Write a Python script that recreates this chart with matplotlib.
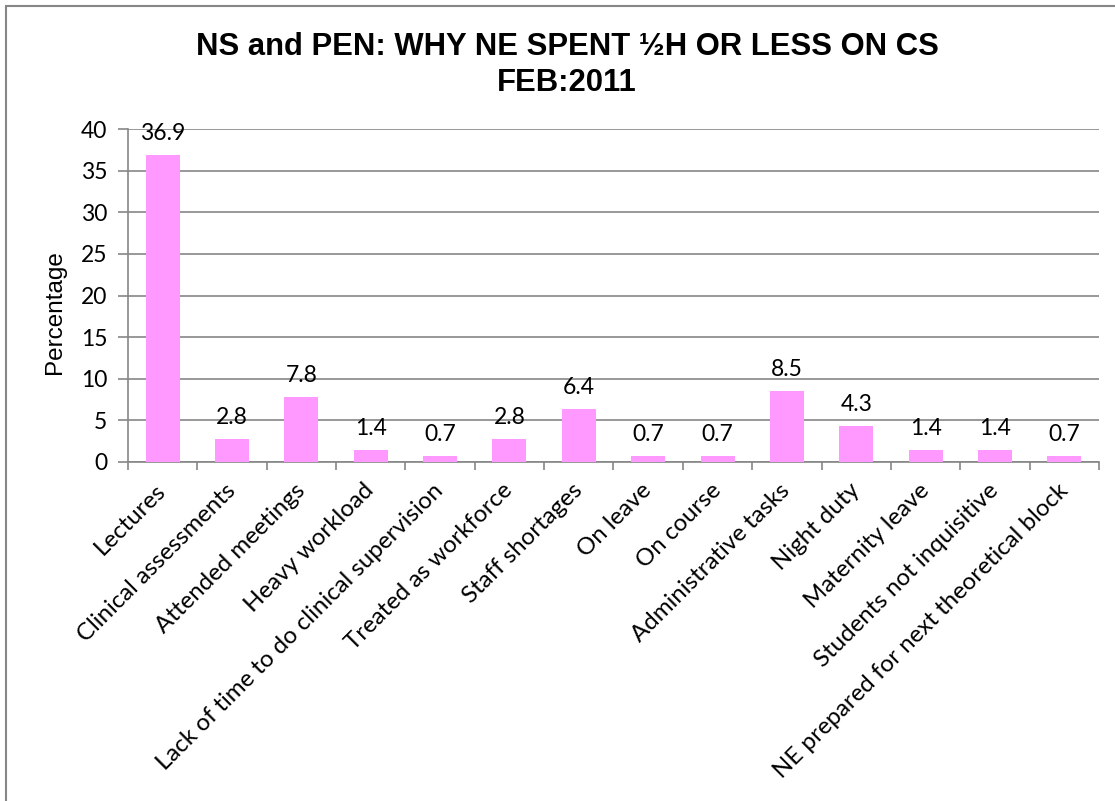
import numpy as np
import matplotlib.pyplot as plt
from matplotlib.patches import Rectangle

categories = ['Lectures', 'Clinical assessments', 'Attended meetings', 'Heavy workload',
              'Lack of time to do clinical supervision', 'Treated as workforce',
              'Staff shortages', 'On leave', 'On course', 'Administrative tasks',
              'Night duty', 'Maternity leave', 'Students not inquisitive',
              'NE prepared for next theoretical block']
values = [36.9, 2.8, 7.8, 1.4, 0.7, 2.8, 6.4, 0.7, 0.7, 8.5, 4.3, 1.4, 1.4, 0.7]
yticks = [0, 5, 10, 15, 20, 25, 30, 35, 40]

W, H = 1115, 801
fig = plt.figure(figsize=(W / 100, H / 100), dpi=100)

# chart frame (only top and left edges fall inside the image)
fig.patches.append(Rectangle((6 / W, -0.1), 1.2, 1 - 6 / H + 0.1, transform=fig.transFigure,
                             fill=False, edgecolor='#868686', linewidth=1.5))

left, right, top, bottom = 128, 1099, 129, 462
ax = fig.add_axes([left / W, 1 - bottom / H, (right - left) / W, (bottom - top) / H])

grey = '#868686'
x = np.arange(len(categories))
ax.bar(x, values, width=0.49, color='#FF99FF', zorder=3)
ax.set_xlim(-0.5, len(categories) - 0.5)
ax.set_ylim(0, 40)
ax.set_yticks(yticks)
ax.yaxis.grid(True, color=grey, linewidth=1.2, zorder=0)

for s in ['top', 'right']:
    ax.spines[s].set_visible(False)
for s in ['left', 'bottom']:
    ax.spines[s].set_color(grey)
    ax.spines[s].set_linewidth(1.2)

lab_font = 'Lato'
ax.tick_params(axis='y', length=7, color=grey, width=1.2, labelsize=16.5, pad=8)
for t in ax.get_yticklabels():
    t.set_fontfamily(lab_font)

# category ticks between bars, labels at bar centres
ax.set_xticks(np.arange(len(categories) + 1) - 0.5)
ax.set_xticklabels([])
ax.tick_params(axis='x', which='major', length=6, color=grey, width=1.2)
ax.set_xticks(x, minor=True)
ax.set_xticklabels(categories, minor=True, rotation=45, ha='right', va='center',
                   rotation_mode='anchor', fontsize=17.3, fontfamily=lab_font)
ax.tick_params(axis='x', which='minor', length=0, pad=18)

for xi, v in zip(x, values):
    ax.annotate(f'{v}', (xi, v), xytext=(0, 8), textcoords='offset points',
                ha='center', va='bottom', fontsize=16.5, fontfamily=lab_font)

ax.set_ylabel('Percentage', fontsize=17.5, fontfamily='Liberation Sans')
ax.yaxis.set_label_coords(-0.064, 0.45)

fig.text(567 / W, 1 - 47 / H, 'NS and PEN: WHY NE SPENT ½H OR LESS ON CS',
         ha='center', va='center', fontsize=22.3, fontweight='bold', fontfamily='Liberation Sans')
fig.text(567 / W, 1 - 83 / H, 'FEB:2011',
         ha='center', va='center', fontsize=22.3, fontweight='bold', fontfamily='Liberation Sans')

fig.savefig('out.png', dpi=100)
